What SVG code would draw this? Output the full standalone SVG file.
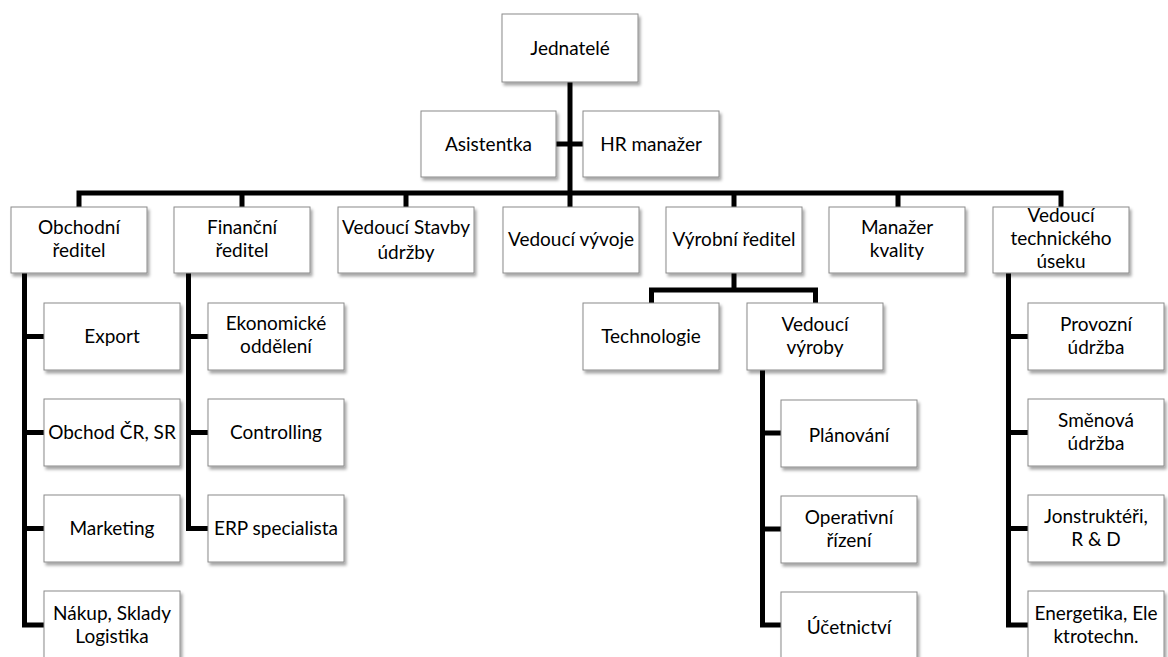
<svg xmlns="http://www.w3.org/2000/svg" width="1168" height="657" viewBox="0 0 1168 657">
  <defs>
    <filter id="shadow" x="-10%" y="-10%" width="125%" height="130%">
      <feDropShadow dx="2" dy="3" stdDeviation="1.6" flood-color="#000" flood-opacity="0.35"/>
    </filter>
  </defs>
  <style>
    .box { fill: #fff; stroke: #8a8a8a; stroke-width: 1; filter: url(#shadow); }
    .lbl { font-family: Lato, "Liberation Sans", sans-serif; font-size: 19px; fill: #000; text-anchor: middle; }
    .conn { fill: none; stroke: #000; stroke-width: 5; stroke-linejoin: miter; stroke-linecap: butt; }
  </style>
  <rect width="1168" height="657" fill="#fff"/>

  <!-- connectors -->
  <g id="connectors">
    <path class="conn" d="M570 82 V193"/>
    <path class="conn" d="M556 144 H583"/>
    <path class="conn" d="M79 207 V193 H1061 V207"/>
    <path class="conn" d="M242 193 V207 M406 193 V207 M570 193 V207 M734 193 V207 M898 193 V207"/>
    <!-- Obchodní ředitel branch -->
    <path class="conn" d="M24.5 273 V625 H44 M24.5 336.5 H44 M24.5 432.5 H44 M24.5 528.5 H44"/>
    <!-- Finanční ředitel branch -->
    <path class="conn" d="M188.5 273 V528.5 H208 M188.5 336.5 H208 M188.5 432.5 H208"/>
    <!-- Výrobní ředitel branch -->
    <path class="conn" d="M734 273 V290 M651.5 303 V290 H815.5 V303"/>
    <!-- Vedoucí výroby branch -->
    <path class="conn" d="M762.5 370 V625 H781 M762.5 433 H781 M762.5 529 H781"/>
    <!-- Vedoucí technického úseku branch -->
    <path class="conn" d="M1008.5 273 V625 H1028 M1008.5 336.5 H1028 M1008.5 432.5 H1028 M1008.5 528.5 H1028"/>
  </g>

  <!-- top -->
  <g id="jednatele">
    <rect class="box" x="502" y="14" width="136" height="68"/>
    <text class="lbl" x="570" y="55">Jednatelé</text>
  </g>
  <g id="asistentka">
    <rect class="box" x="421" y="111" width="135" height="66"/>
    <text class="lbl" x="488.5" y="150.5">Asistentka</text>
  </g>
  <g id="hr-manazer">
    <rect class="box" x="583" y="111" width="136" height="66"/>
    <text class="lbl" x="651" y="150.5">HR manažer</text>
  </g>

  <!-- directors row -->
  <g id="obchodni-reditel">
    <rect class="box" x="11" y="207" width="136" height="66"/>
    <text class="lbl" x="79" y="234">Obchodní</text>
    <text class="lbl" x="79" y="257">ředitel</text>
  </g>
  <g id="financni-reditel">
    <rect class="box" x="174" y="207" width="136" height="66"/>
    <text class="lbl" x="242" y="234">Finanční</text>
    <text class="lbl" x="242" y="257">ředitel</text>
  </g>
  <g id="vedouci-stavby">
    <rect class="box" x="338" y="207" width="136" height="66"/>
    <text class="lbl" x="406" y="234">Vedoucí Stavby</text>
    <text class="lbl" x="406" y="259">údržby</text>
  </g>
  <g id="vedouci-vyvoje">
    <rect class="box" x="503" y="207" width="136" height="66"/>
    <text class="lbl" x="571" y="246">Vedoucí vývoje</text>
  </g>
  <g id="vyrobni-reditel">
    <rect class="box" x="666" y="207" width="136" height="66"/>
    <text class="lbl" x="734" y="246">Výrobní ředitel</text>
  </g>
  <g id="manazer-kvality">
    <rect class="box" x="829" y="207" width="136" height="66"/>
    <text class="lbl" x="897" y="234">Manažer</text>
    <text class="lbl" x="897" y="257">kvality</text>
  </g>
  <g id="vedouci-technickeho">
    <rect class="box" x="993" y="207" width="136" height="66"/>
    <text class="lbl" x="1061" y="222">Vedoucí</text>
    <text class="lbl" x="1061" y="245">technického</text>
    <text class="lbl" x="1061" y="268">úseku</text>
  </g>

  <!-- Obchodní ředitel subordinates -->
  <g id="export">
    <rect class="box" x="44" y="303" width="136" height="67"/>
    <text class="lbl" x="112" y="343">Export</text>
  </g>
  <g id="obchod-cr-sr">
    <rect class="box" x="44" y="399" width="136" height="67"/>
    <text class="lbl" x="112" y="439">Obchod ČR, SR</text>
  </g>
  <g id="marketing">
    <rect class="box" x="44" y="495" width="136" height="67"/>
    <text class="lbl" x="112" y="535">Marketing</text>
  </g>
  <g id="nakup-sklady">
    <rect class="box" x="44" y="591" width="136" height="67"/>
    <text class="lbl" x="112" y="620">Nákup, Sklady</text>
    <text class="lbl" x="112" y="643">Logistika</text>
  </g>

  <!-- Finanční ředitel subordinates -->
  <g id="ekonomicke-oddeleni">
    <rect class="box" x="208" y="303" width="136" height="67"/>
    <text class="lbl" x="276" y="330">Ekonomické</text>
    <text class="lbl" x="276" y="353">oddělení</text>
  </g>
  <g id="controlling">
    <rect class="box" x="208" y="399" width="136" height="67"/>
    <text class="lbl" x="276" y="439">Controlling</text>
  </g>
  <g id="erp-specialista">
    <rect class="box" x="208" y="495" width="136" height="67"/>
    <text class="lbl" x="276" y="535">ERP specialista</text>
  </g>

  <!-- Výrobní ředitel subordinates -->
  <g id="technologie">
    <rect class="box" x="583" y="303" width="136" height="67"/>
    <text class="lbl" x="651" y="343">Technologie</text>
  </g>
  <g id="vedouci-vyroby">
    <rect class="box" x="747" y="303" width="136" height="67"/>
    <text class="lbl" x="815" y="331">Vedoucí</text>
    <text class="lbl" x="815" y="354">výroby</text>
  </g>
  <g id="planovani">
    <rect class="box" x="781" y="400" width="136" height="67"/>
    <text class="lbl" x="849" y="442">Plánování</text>
  </g>
  <g id="operativni-rizeni">
    <rect class="box" x="781" y="496" width="136" height="67"/>
    <text class="lbl" x="849" y="524">Operativní</text>
    <text class="lbl" x="849" y="547">řízení</text>
  </g>
  <g id="ucetnictvi">
    <rect class="box" x="781" y="592" width="136" height="67"/>
    <text class="lbl" x="849" y="634">Účetnictví</text>
  </g>

  <!-- Vedoucí technického úseku subordinates -->
  <g id="provozni-udrzba">
    <rect class="box" x="1028" y="303" width="136" height="67"/>
    <text class="lbl" x="1096" y="331">Provozní</text>
    <text class="lbl" x="1096" y="354">údržba</text>
  </g>
  <g id="smenova-udrzba">
    <rect class="box" x="1028" y="399" width="136" height="67"/>
    <text class="lbl" x="1096" y="427">Směnová</text>
    <text class="lbl" x="1096" y="450">údržba</text>
  </g>
  <g id="konstrukteri">
    <rect class="box" x="1028" y="495" width="136" height="67"/>
    <text class="lbl" x="1096" y="523">Jonstruktéři,</text>
    <text class="lbl" x="1096" y="546">R &amp; D</text>
  </g>
  <g id="energetika">
    <rect class="box" x="1028" y="591" width="136" height="67"/>
    <text class="lbl" x="1096" y="620">Energetika, Ele</text>
    <text class="lbl" x="1096" y="643">ktrotechn.</text>
  </g>
</svg>
